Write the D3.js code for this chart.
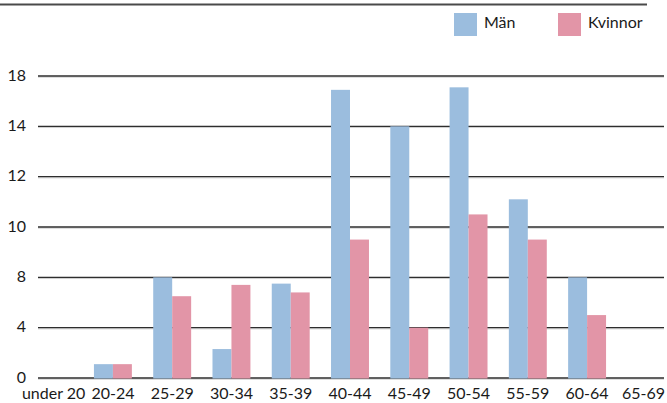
<!DOCTYPE html>
<html>
<head>
<meta charset="utf-8">
<script src="https://cdn.jsdelivr.net/npm/d3@7/dist/d3.min.js"></script>
<style>
  html, body { margin: 0; padding: 0; background: #fff; }
  svg { display: block; }
  text { font-family: Lato, "Open Sans", sans-serif; fill: #1a1a1a; }
</style>
</head>
<body>
<svg id="chart" width="667" height="403"></svg>
<script>
// Age groups along the x axis
const categories = ["under 20", "20-24", "25-29", "30-34", "35-39", "40-44",
                    "45-49", "50-54", "55-59", "60-64", "65-69"];
// Counts per age group
const men   = [0, 1.1, 8.0, 2.3, 7.5, 22.9, 20.0, 23.1, 14.2, 8.0, 0];
const women = [0, 1.1, 6.5, 7.4, 6.8, 11.0, 4.0, 13.0, 11.0, 5.0, 0];
const seriesNames = ["Män", "Kvinnor"];
const seriesColors = ["#9bbdde", "#e295a7"];
// Gridline values and the labels printed beside them
const tickValues = [0, 4, 8, 12, 16, 20, 24];
const tickLabels = ["0", "4", "8", "10", "12", "14", "18"];

const svg = d3.select("#chart");
const plotLeft = 38, plotRight = 664;

const x = d3.scaleBand().domain(categories).range([24, 676])
  .paddingInner(0.36).paddingOuter(0.18);
const xs = d3.scaleBand().domain(seriesNames).range([0, x.bandwidth()]);
const y = d3.scaleLinear().domain([0, 24]).range([378, 76]);

// Top rule
svg.append("line").attr("x1", 0).attr("x2", 647).attr("y1", 4.5).attr("y2", 4.5)
  .attr("stroke", "#4a4a4a").attr("stroke-width", 2);

// Gridlines
const grid = svg.append("g");
grid.selectAll("line.shade").data(tickValues).join("line")
  .attr("class", "shade")
  .attr("x1", plotLeft).attr("x2", plotRight)
  .attr("y1", d => y(d) + 1.2).attr("y2", d => y(d) + 1.2)
  .attr("stroke", "#cfcfcf").attr("stroke-width", 1);
grid.selectAll("line.main").data(tickValues).join("line")
  .attr("class", "main")
  .attr("x1", plotLeft).attr("x2", plotRight)
  .attr("y1", d => y(d)).attr("y2", d => y(d))
  .attr("stroke", "#2e2e2e").attr("stroke-width", 1.4);

// Y axis labels
const yAxis = d3.axisLeft(y).tickValues(tickValues)
  .tickFormat((d, i) => tickLabels[i]).tickSize(0).tickPadding(0);
const ya = svg.append("g").attr("transform", "translate(26,-1)").call(yAxis);
ya.select(".domain").remove();
ya.selectAll("text").style("font-family", "Lato, sans-serif")
  .style("font-size", "16px").attr("fill", "#1a1a1a");

// Bars (zero counts draw nothing)
const rows = categories.map((c, i) => ({ cat: c, vals: [men[i], women[i]] }));
const groups = svg.append("g").selectAll("g").data(rows).join("g")
  .attr("transform", d => `translate(${x(d.cat)},0)`);
groups.selectAll("rect")
  .data(d => d.vals.map((v, j) => ({ v, s: seriesNames[j], j })).filter(b => b.v > 0))
  .join("rect")
  .attr("x", d => xs(d.s))
  .attr("width", xs.bandwidth())
  .attr("y", d => y(d.v))
  .attr("height", d => y(0) - y(d.v) + 0.5)
  .attr("fill", d => seriesColors[d.j]);

// X axis labels, nudged inward where they would run past the edges
const xAxis = d3.axisBottom(x).tickSize(0).tickPadding(0);
const xa = svg.append("g").attr("transform", "translate(0,388)").call(xAxis);
xa.select(".domain").remove();
xa.selectAll("text").style("font-family", "Lato, sans-serif")
  .style("font-size", "16px").attr("fill", "#1a1a1a");
xa.selectAll(".tick").each(function (d) {
  const t = d3.select(this).select("text");
  const w = t.node().getComputedTextLength();
  const c = x(d) + x.bandwidth() / 2;
  let dx = 0;
  if (c - w / 2 < 15) dx = 15 - (c - w / 2);
  if (c + w / 2 > 665) dx = 665 - (c + w / 2);
  t.attr("dx", dx);
});

// Legend
const legendX = [454, 558];
const legend = svg.append("g").selectAll("g").data(seriesNames).join("g")
  .attr("transform", (d, i) => `translate(${legendX[i]},13)`);
legend.append("rect").attr("width", 23).attr("height", 23)
  .attr("fill", (d, i) => seriesColors[i]);
legend.append("text").attr("x", 30).attr("y", 15)
  .style("font-size", "16px").text(d => d);
</script>
</body>
</html>
